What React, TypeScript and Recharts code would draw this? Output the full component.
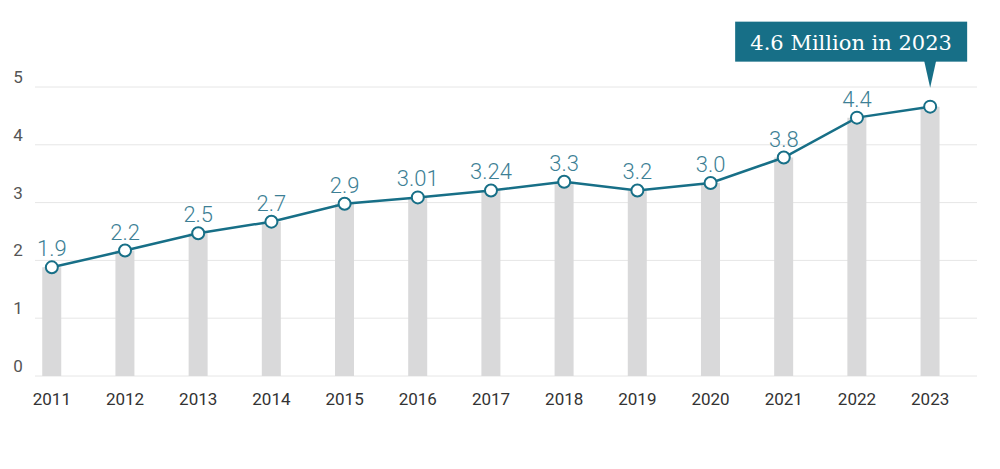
import React from "react";
import {
  ComposedChart,
  Bar,
  Line,
  XAxis,
  YAxis,
  CartesianGrid,
  LabelList,
  ReferenceDot,
} from "recharts";

// values (point heights), and the printed labels
const years = [2011, 2012, 2013, 2014, 2015, 2016, 2017, 2018, 2019, 2020, 2021, 2022, 2023];
const values = [1.88, 2.17, 2.47, 2.67, 2.98, 3.09, 3.21, 3.36, 3.21, 3.34, 3.78, 4.47, 4.66];
// 2023 is not labelled at the point, the callout carries it
const labels = ["1.9", "2.2", "2.5", "2.7", "2.9", "3.01", "3.24", "3.3", "3.2", "3.0", "3.8", "4.4", ""];
const yTicks = [0, 1, 2, 3, 4, 5];
const calloutText = "4.6 Million in 2023";

const data = years.map((year, i) => ({ year, value: values[i], label: labels[i] }));

const TEAL = "#176f87";
const LABEL_TEAL = "#3d7f95";

const YTick = ({ y, payload }: any) => (
  <text x={18} y={y - 4} textAnchor="middle" fill="#555" fontSize={17} fontFamily="Roboto">
    {payload.value}
  </text>
);

const XTick = ({ x, y, payload }: any) => (
  <text x={x} y={y + 21} textAnchor="middle" fill="#333" fontSize={17} fontFamily="Roboto">
    {payload.value}
  </text>
);

const PointLabel = ({ x, y, value }: any) =>
  value ? (
    <text
      x={x}
      y={y - 11}
      textAnchor="middle"
      fill={LABEL_TEAL}
      fontSize={22}
      fontWeight={300}
      fontFamily="Roboto"
    >
      {value}
    </text>
  ) : null;

const Callout = ({ cx, cy }: any) => (
  <g>
    <rect x={cx - 195} y={cy - 85} width={232} height={40} fill={TEAL} />
    <polygon points={`${cx - 6},${cy - 46} ${cx + 6},${cy - 46} ${cx},${cy - 19}`} fill={TEAL} />
    <text
      x={cx - 79}
      y={cy - 57}
      textAnchor="middle"
      fill="#fff"
      fontSize={21}
      fontFamily="DejaVu Serif"
    >
      {calloutText}
    </text>
  </g>
);

export default function App() {
  return (
    <div style={{ position: "absolute", left: 0, top: 0, background: "#fff" }}>
      <ComposedChart
        width={1000}
        height={469}
        data={data}
        margin={{ top: 87, right: 23, left: 0, bottom: 63 }}
      >
        <CartesianGrid vertical={false} stroke="#e6e6e6" />
        <XAxis
          dataKey="year"
          type="number"
          domain={[2010.77, 2023.64]}
          ticks={years}
          axisLine={false}
          tickLine={false}
          tick={<XTick />}
          height={30}
          interval={0}
        />
        <YAxis
          domain={[0, 5]}
          ticks={yTicks}
          width={35}
          axisLine={false}
          tickLine={false}
          tick={<YTick />}
          interval={0}
        />
        <Bar dataKey="value" fill="#d9d9da" barSize={19} isAnimationActive={false} />
        <Line
          dataKey="value"
          stroke={TEAL}
          strokeWidth={2.5}
          dot={{ r: 6, fill: "#fff", stroke: TEAL, strokeWidth: 2 }}
          activeDot={false}
          isAnimationActive={false}
        >
          <LabelList dataKey="label" content={<PointLabel />} />
        </Line>
        <ReferenceDot x={2023} y={values[12]} r={0} shape={<Callout />} />
      </ComposedChart>
    </div>
  );
}
